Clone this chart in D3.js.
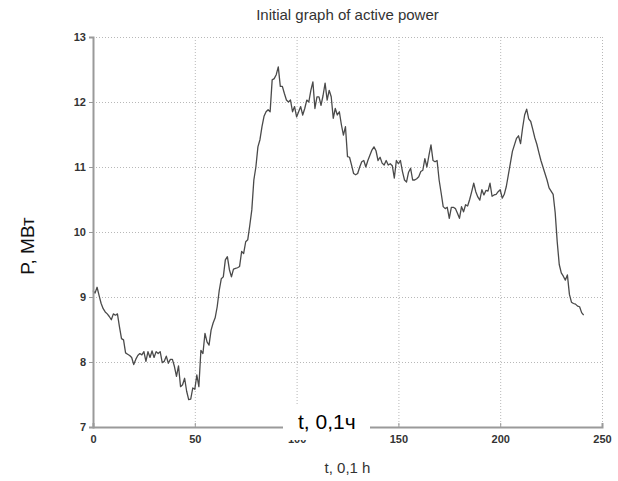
<!DOCTYPE html>
<html>
<head>
<meta charset="utf-8">
<script src="https://cdn.jsdelivr.net/npm/d3@7"></script>
<style>
    body { margin: 0; background: #fff; }
    .tickLabel { font-family: "Liberation Sans", Arial, sans-serif; font-size: 11px; fill: #333; }
    .grid { stroke: #b8b8b8; stroke-width: 1; stroke-dasharray: 1,2; }
</style>
</head>
<body>
<script>
(function() {

    //chart data (t in 0,1 h steps, P in MW)
    var powerValues = [
        9.10, 9.06, 9.15, 9.02, 8.90, 8.82, 8.77, 8.74, 8.70, 8.65,
        8.74, 8.72, 8.74, 8.54, 8.36, 8.34, 8.14, 8.12, 8.10, 8.07,
        7.96, 8.04, 8.10, 8.13, 8.11, 8.16, 8.01, 8.16, 8.07, 8.17,
        8.07, 8.16, 8.13, 8.16, 7.99, 8.01, 8.09, 7.98, 8.04, 8.04,
        7.93, 7.78, 7.94, 7.62, 7.65, 7.75, 7.55, 7.42, 7.43, 7.60,
        7.58, 7.80, 7.62, 8.18, 8.13, 8.44, 8.31, 8.26, 8.49, 8.60,
        8.68, 8.85, 9.10, 9.28, 9.31, 9.57, 9.62, 9.42, 9.31, 9.43,
        9.44, 9.45, 9.47, 9.70, 9.67, 9.85, 9.88, 10.10, 10.34, 10.80,
        11.00, 11.31, 11.42, 11.62, 11.78, 11.85, 11.88, 11.85, 12.34, 12.36,
        12.42, 12.54, 12.24, 12.24, 12.13, 12.03, 12.00, 12.03, 11.85, 11.93,
        11.77, 11.85, 11.93, 11.80, 11.90, 12.03, 12.00, 12.18, 12.31, 11.90,
        12.08, 12.08, 11.95, 12.10, 12.29, 12.03, 12.18, 12.08, 11.75, 11.90,
        11.80, 11.85, 11.65, 11.49, 11.62, 11.16, 11.15, 11.03, 10.90, 10.88,
        10.90, 11.00, 11.08, 11.10, 11.00, 11.10, 11.18, 11.26, 11.31, 11.25,
        11.10, 11.15, 11.06, 11.03, 11.10, 11.03, 11.05, 11.02, 10.83, 11.10,
        11.05, 11.10, 10.93, 10.80, 10.77, 10.92, 10.98, 10.80, 10.80, 10.82,
        10.85, 10.93, 10.95, 11.13, 11.00, 11.18, 11.34, 11.10, 11.08, 11.10,
        10.80, 10.60, 10.39, 10.36, 10.38, 10.21, 10.38, 10.38, 10.36, 10.29,
        10.21, 10.39, 10.31, 10.42, 10.40, 10.50, 10.62, 10.75, 10.62, 10.54,
        10.49, 10.65, 10.57, 10.64, 10.63, 10.75, 10.55, 10.57, 10.58, 10.62,
        10.65, 10.52, 10.58, 10.70, 10.88, 11.06, 11.24, 11.34, 11.44, 11.48,
        11.36, 11.60, 11.80, 11.89, 11.74, 11.70, 11.58, 11.45, 11.35, 11.22,
        11.10, 11.00, 10.90, 10.80, 10.68, 10.63, 10.58, 10.30, 9.85, 9.50,
        9.37, 9.32, 9.26, 9.34, 9.04, 8.92, 8.90, 8.89, 8.86, 8.85,
        8.76, 8.72
    ];
    var xTicks = [0, 50, 100, 150, 200, 250];
    var yTicks = [7, 8, 9, 10, 11, 12, 13];

    var chartTitle = "Initial graph of active power";
    var xTitle = "t, 0,1 h";
    var yTitle = "P, МВт";
    var overlayLabel = "t, 0,1ч";

    window.onload = setChart();

    function setChart() {
        //frame dimensions
        var width = 618,
            height = 481,
            left = 93,
            right = 602,
            top = 37,
            bottom = 427;

        var svg = d3.select("body")
            .append("svg")
            .attr("width", width)
            .attr("height", height);

        //scales
        var xScale = d3.scaleLinear()
            .domain([0, 250])
            .range([left, right]);
        var yScale = d3.scaleLinear()
            .domain([7, 13])
            .range([bottom, top]);

        //dotted grid (also draws the top and right frame)
        svg.selectAll(".gridX")
            .data(xTicks.slice(1))
            .enter()
            .append("line")
            .attr("class", "grid")
            .attr("x1", d => xScale(d) + 0.5)
            .attr("x2", d => xScale(d) + 0.5)
            .attr("y1", top)
            .attr("y2", bottom);
        svg.selectAll(".gridY")
            .data(yTicks.slice(1))
            .enter()
            .append("line")
            .attr("class", "grid")
            .attr("x1", left)
            .attr("x2", right)
            .attr("y1", d => yScale(d) + 0.5)
            .attr("y2", d => yScale(d) + 0.5);

        //power line
        var line = d3.line()
            .x((d, i) => xScale(i))
            .y(d => yScale(d));
        svg.append("path")
            .datum(powerValues)
            .attr("d", line)
            .attr("fill", "none")
            .attr("stroke", "#4a4a4a")
            .attr("stroke-width", 1.3)
            .attr("stroke-linejoin", "round");

        //axes
        var xAxis = d3.axisBottom(xScale)
            .tickValues(xTicks)
            .tickFormat(d3.format("d"))
            .tickSize(-4)
            .tickPadding(8);
        var yAxis = d3.axisLeft(yScale)
            .tickValues(yTicks)
            .tickFormat(d3.format("d"))
            .tickSize(4)
            .tickPadding(3);

        var gx = svg.append("g")
            .attr("transform", "translate(0," + bottom + ")")
            .call(xAxis);
        var gy = svg.append("g")
            .attr("transform", "translate(" + left + ",0)")
            .call(yAxis);

        [gx, gy].forEach(function(g) {
            g.select(".domain").attr("stroke", "#9a9a9a").attr("stroke-width", 2);
            g.selectAll(".tick line").attr("stroke", "#9a9a9a");
            g.selectAll(".tick text")
                .attr("class", "tickLabel")
                .attr("font-weight", "bold");
        });

        //title
        svg.append("text")
            .attr("x", (left + right) / 2)
            .attr("y", 20)
            .attr("text-anchor", "middle")
            .style("font-family", "Liberation Sans, Arial, sans-serif")
            .style("font-size", "15px")
            .style("fill", "#333")
            .text(chartTitle);

        //axis titles
        svg.append("text")
            .attr("transform", "translate(34,246) rotate(-90)")
            .attr("text-anchor", "middle")
            .style("font-family", "Liberation Sans, Arial, sans-serif")
            .style("font-size", "19px")
            .style("fill", "#111")
            .text(yTitle);

        svg.append("text")
            .attr("x", (left + right) / 2)
            .attr("y", 473)
            .attr("text-anchor", "middle")
            .style("font-family", "Liberation Sans, Arial, sans-serif")
            .style("font-size", "15px")
            .style("fill", "#333")
            .text(xTitle);

        //pasted-over label box
        svg.append("rect")
            .attr("x", 283)
            .attr("y", 404)
            .attr("width", 87)
            .attr("height", 36)
            .attr("fill", "#fff");
        svg.append("text")
            .attr("x", 298)
            .attr("y", 429)
            .style("font-family", "Liberation Sans, Arial, sans-serif")
            .style("font-size", "21px")
            .style("fill", "#000")
            .text(overlayLabel);
    }

})();
</script>
</body>
</html>
